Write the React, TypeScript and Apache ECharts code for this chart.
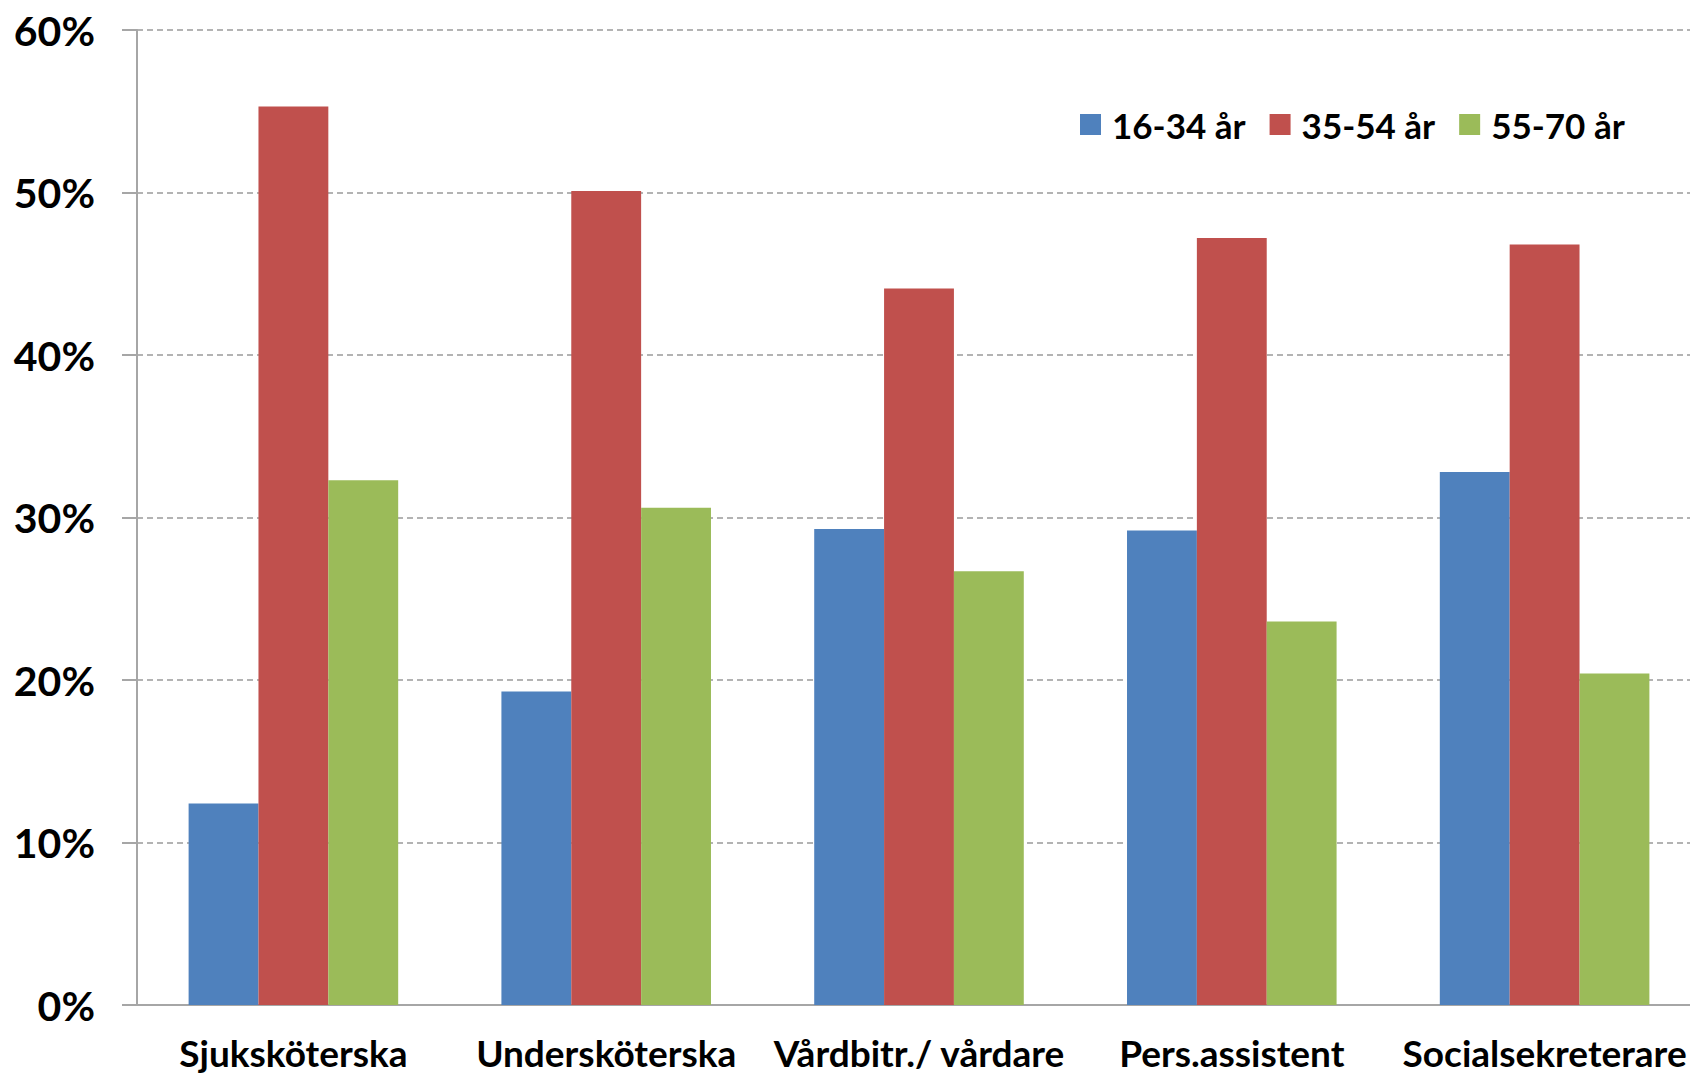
import React, { useEffect, useRef } from "react";
import * as echarts from "echarts";

const categories = [
  "Sjuksköterska",
  "Undersköterska",
  "Vårdbitr./ vårdare",
  "Pers.assistent",
  "Socialsekreterare",
];
const seriesNames = ["16-34 år", "35-54 år", "55-70 år"];
const age16to34 = [12.4, 19.3, 29.3, 29.2, 32.8];
const age35to54 = [55.3, 50.1, 44.1, 47.2, 46.8];
const age55to70 = [32.3, 30.6, 26.7, 23.6, 20.4];
const seriesColors = ["#4F81BD", "#C0504D", "#9BBB59"];
const yMin = 0;
const yMax = 60;
const yStep = 10;

const FONT = "Lato, 'Open Sans', sans-serif";

export default function App() {
  const ref = useRef<HTMLDivElement>(null);

  useEffect(() => {
    if (!ref.current) return;
    const chart = echarts.init(ref.current, undefined, { renderer: "svg" });
    const values = [age16to34, age35to54, age55to70];
    chart.setOption({
      animation: false,
      backgroundColor: "#ffffff",
      textStyle: { fontFamily: FONT },
      legend: {
        left: 1075,
        top: 102,
        icon: "rect",
        itemWidth: 21,
        itemHeight: 21,
        itemGap: 24,
        data: seriesNames,
        textStyle: {
          fontFamily: FONT,
          fontSize: 35,
          fontWeight: "bold",
          color: "#000",
          padding: [0, 0, 0, 6],
        },
      },
      grid: {
        left: 137,
        top: 30,
        width: 1564,
        height: 975,
      },
      xAxis: {
        type: "category",
        data: categories,
        axisLine: { show: true, lineStyle: { color: "#A6A6A6", width: 2 } },
        axisTick: { show: false },
        splitLine: { show: false },
        axisLabel: {
          fontFamily: FONT,
          fontSize: 37,
          fontWeight: "bold",
          color: "#000",
          margin: 29,
          interval: 0,
        },
      },
      yAxis: {
        type: "value",
        min: yMin,
        max: yMax,
        interval: yStep,
        axisLine: { show: true, lineStyle: { color: "#A6A6A6", width: 2 } },
        axisTick: { show: true, length: 15, lineStyle: { color: "#A6A6A6", width: 2 } },
        splitLine: {
          show: true,
          lineStyle: { color: "#9A9A9A", width: 1.5, type: [6, 4] },
        },
        axisLabel: {
          formatter: "{value}%",
          fontFamily: FONT,
          fontSize: 41,
          fontWeight: "bold",
          color: "#000",
          margin: 42,
        },
      },
      series: seriesNames.map((name, i) => ({
        name,
        type: "bar",
        data: values[i],
        barGap: "0%",
        barCategoryGap: "33%",
        itemStyle: { color: seriesColors[i] },
      })),
    });
    return () => chart.dispose();
  }, []);

  return (
    <div
      ref={ref}
      style={{ position: "fixed", left: 0, top: 0, width: 1710, height: 1074 }}
    />
  );
}
